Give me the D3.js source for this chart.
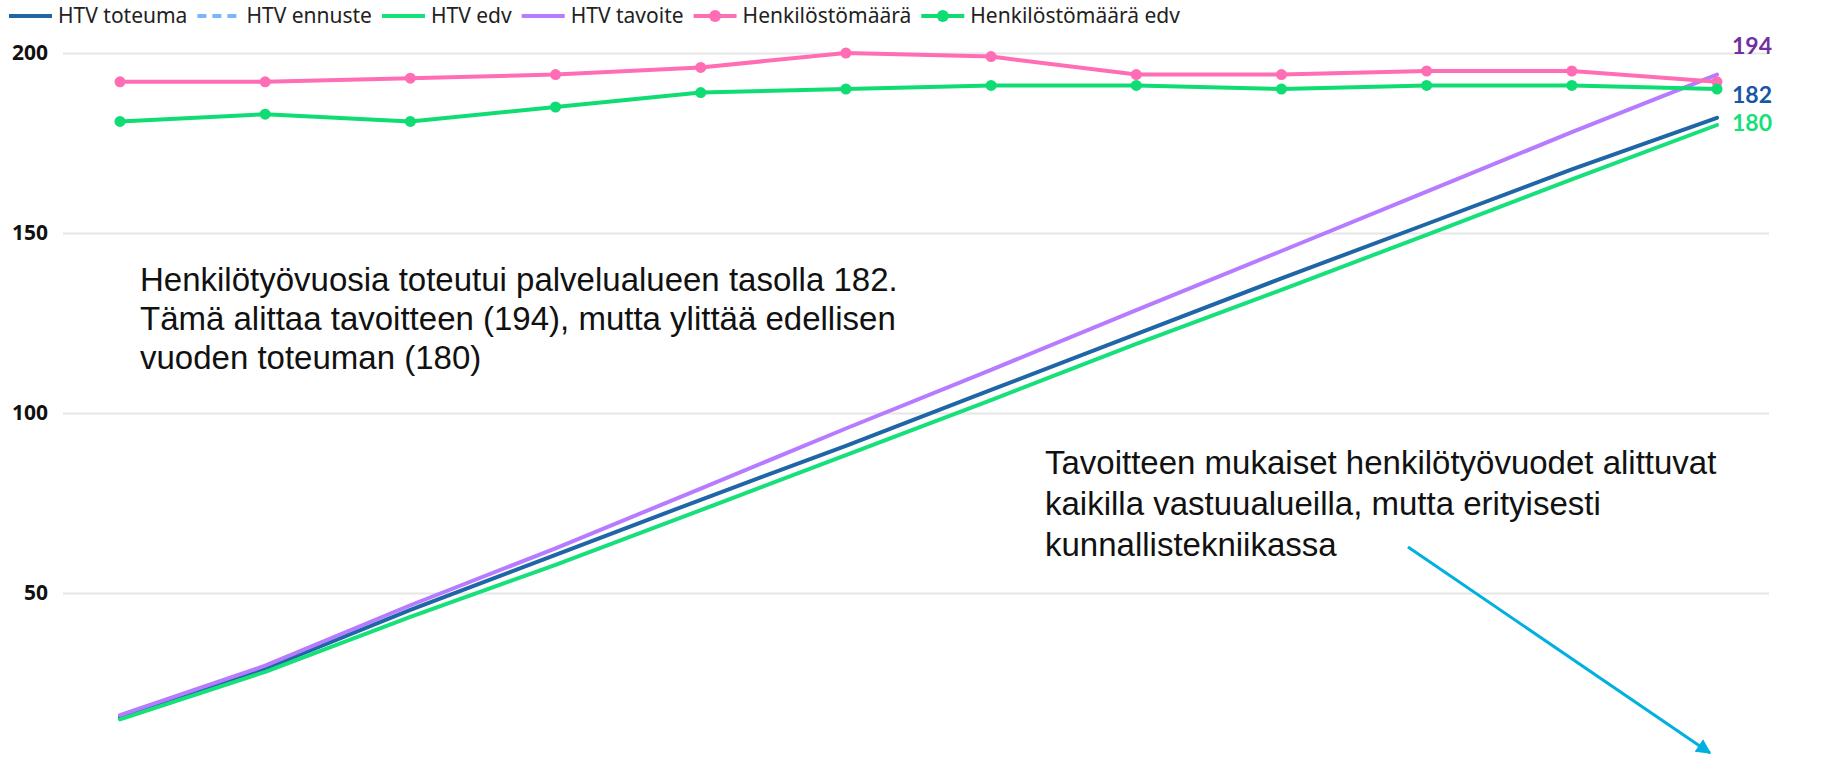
<!DOCTYPE html>
<html>
<head>
<meta charset="utf-8">
<script src="https://cdn.jsdelivr.net/npm/d3@7"></script>
<style>
body{margin:0;background:#fff;overflow:hidden}
</style>
</head>
<body>
<svg id="chart"></svg>
<script>
// kuukaudet (x-akselin luokat, ei näy kuvassa)
const months=['tammi','helmi','maalis','huhti','touko','kesä','heinä','elo','syys','loka','marras','joulu'];

// kumulatiiviset henkilötyövuodet
const htvToteuma=[15.5,29,45.3,60.6,75.9,90.9,106.4,121.9,137.4,152.5,167.7,182];
const htvEnnuste=[];
const htvEdv=[14.9,28.1,43.4,57.8,73,88.3,103.6,119.2,134.2,149.5,164.9,180];
const htvTavoite=[16.1,29.8,46.6,62.4,79,95.7,112,128.6,145,161.5,178,194];

// henkilöstömäärä
const henkilostomaara=[192,192,193,194,196,200,199,194,194,195,195,192];
const henkilostomaaraEdv=[181,183,181,185,189,190,191,191,190,191,191,190];

const yTicks=[50,100,150,200];

const seriesNames=['HTV toteuma','HTV ennuste','HTV edv','HTV tavoite','Henkilöstömäärä','Henkilöstömäärä edv'];
const colors=['#1f66a6','#74b9ff','#16e07a','#b77bff','#ff6db5','#10dc74'];

const width=1827;
const height=762;

const svg=d3.select('#chart')
  .attr('width',width)
  .attr('height',height)
  .style('font-family','"Noto Sans", sans-serif');

let xScale=d3.scalePoint()
  .domain(months)
  .range([120,1717]);

let yScale=d3.scaleLinear()
  .domain([0,200])
  .range([773,53]);

// y-akseli ja ruudukko
let yAxis=d3.axisLeft(yScale)
  .tickValues(yTicks)
  .tickSize(-(1769-63))
  .tickPadding(15);

let gy=svg.append('g')
  .attr('transform','translate(63,0)')
  .call(yAxis);
gy.select('.domain').remove();
gy.selectAll('.tick line')
  .attr('stroke','#e6e6e6')
  .attr('stroke-width',2);
gy.selectAll('.tick text')
  .attr('fill','#111')
  .style('font-size','21px')
  .style('font-weight','700')
  .style('font-family','"Noto Sans", sans-serif');

let line=d3.line()
  .defined(d=>d!=null)
  .x((d,i)=>xScale(months[i]))
  .y(d=>yScale(d));

let drawLine=(data,color,dash)=>{
  svg.append('path')
    .datum(data)
    .attr('fill','none')
    .attr('stroke',color)
    .attr('stroke-width',4)
    .attr('stroke-linecap','round')
    .attr('stroke-linejoin','round')
    .attr('stroke-dasharray',dash||null)
    .attr('d',line);
}

let drawDots=(data,color)=>{
  svg.append('g')
    .selectAll('circle')
    .data(data)
    .enter()
    .append('circle')
    .attr('cx',(d,i)=>xScale(months[i]))
    .attr('cy',d=>yScale(d))
    .attr('r',5.5)
    .attr('fill',color);
}

drawLine(htvToteuma,colors[0]);
drawLine(htvEnnuste,colors[1],'8,6');
drawLine(htvEdv,colors[2]);
drawLine(htvTavoite,colors[3]);
drawLine(henkilostomaara,colors[4]);
drawDots(henkilostomaara,colors[4]);
drawLine(henkilostomaaraEdv,colors[5]);
drawDots(henkilostomaaraEdv,colors[5]);

// loppuarvot
const endLabels=[
  {v:htvTavoite[11],color:'#7030a0',y:54},
  {v:htvToteuma[11],color:'#1a56a8',y:103},
  {v:htvEdv[11],color:'#16e07a',y:131}
];
svg.append('g')
  .selectAll('text')
  .data(endLabels)
  .enter()
  .append('text')
  .attr('x',xScale(months[11])+15)
  .attr('y',d=>d.y)
  .attr('fill',d=>d.color)
  .style('font-family','Lato, sans-serif')
  .style('font-size','23px')
  .style('font-weight','700')
  .text(d=>d3.format('d')(d.v));

// selite
let legend=svg.append('g');
let lx=9;
seriesNames.forEach((name,i)=>{
  let g=legend.append('g');
  g.append('line')
    .attr('x1',lx).attr('x2',lx+43)
    .attr('y1',16).attr('y2',16)
    .attr('stroke',colors[i])
    .attr('stroke-width',4)
    .attr('stroke-dasharray',i==1?'9,6':null);
  if(i>=4){
    g.append('circle')
      .attr('cx',lx+21.5).attr('cy',16).attr('r',6)
      .attr('fill',colors[i]);
  }
  let t=g.append('text')
    .attr('x',lx+49)
    .attr('y',23)
    .attr('fill','#222')
    .style('font-size','21px')
    .text(name);
  lx=lx+49+t.node().getComputedTextLength()+10;
});

// tekstihuomautukset
let note=(x,y,lh,lines)=>{
  let t=svg.append('text')
    .attr('x',x)
    .attr('y',y)
    .attr('fill','#111')
    .style('font-family','"Liberation Sans", Arial, sans-serif')
    .style('font-size','33px');
  lines.forEach((s,i)=>{
    t.append('tspan')
      .attr('x',x)
      .attr('dy',i==0?0:lh)
      .text(s);
  });
}
note(140,291,39,['Henkilötyövuosia toteutui palvelualueen tasolla 182.','Tämä alittaa tavoitteen (194), mutta ylittää edellisen','vuoden toteuman (180)']);
note(1045,474,41,['Tavoitteen mukaiset henkilötyövuodet alittuvat','kaikilla vastuualueilla, mutta erityisesti','kunnallistekniikassa']);

// nuoli
svg.append('defs').append('marker')
  .attr('id','arrow')
  .attr('viewBox','0 0 10 10')
  .attr('refX',9).attr('refY',5)
  .attr('markerWidth',5).attr('markerHeight',5)
  .attr('markerUnits','strokeWidth')
  .attr('orient','auto')
  .append('path')
  .attr('d','M0,0 L10,5 L0,10 z')
  .attr('fill','#00b0e0');
svg.append('line')
  .attr('x1',1408).attr('y1',547)
  .attr('x2',1710).attr('y2',753)
  .attr('stroke','#00b0e0')
  .attr('stroke-width',3)
  .attr('marker-end','url(#arrow)');
</script>
</body>
</html>
